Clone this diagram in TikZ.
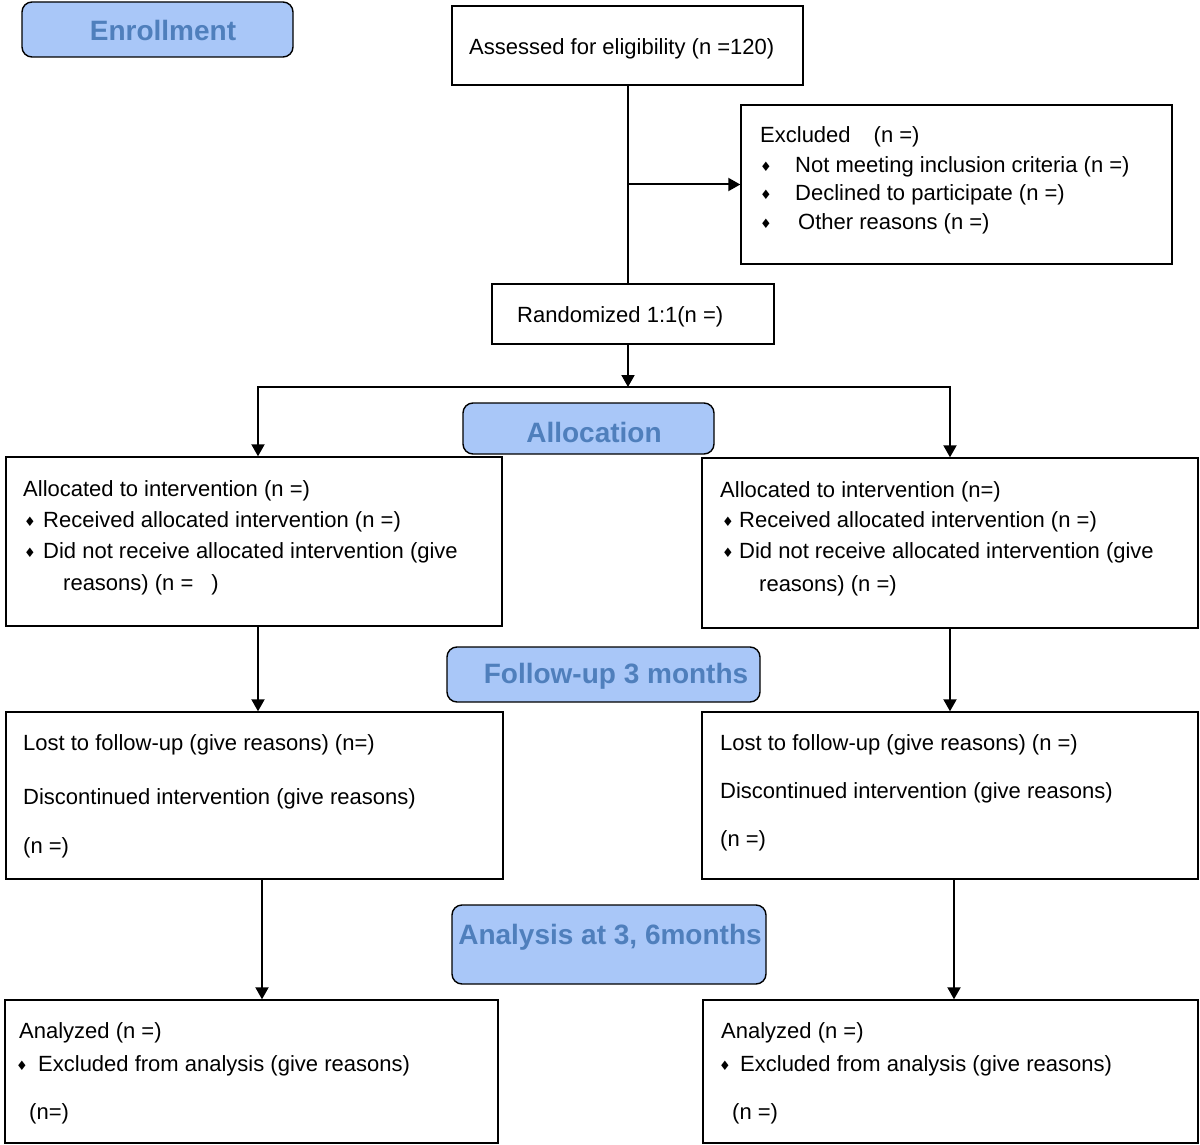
\documentclass[tikz,border=0pt]{standalone}
\usepackage{fontspec}
\setmainfont{Liberation Sans}
\newfontfamily\djv{DejaVu Sans}
\usetikzlibrary{arrows.meta}
\definecolor{lblfill}{HTML}{A9C7F8}
\definecolor{lbltext}{HTML}{4F7FBC}
\newcommand{\bul}{\raisebox{1.5pt}{\djv\fontsize{13}{13}\selectfont ♦}}
\newcommand{\bl}[1]{\makebox[#1][l]{\bul}}
\begin{document}
\begin{tikzpicture}[x=1pt,y=-1pt,
  box/.style={draw, line width=1.4pt, inner sep=0pt},
  lblbox/.style={draw, line width=1.4pt, inner sep=0pt, rounded corners=10pt, fill=lblfill},
  lbltxt/.style={inner sep=0pt, text=lbltext, font=\fontsize{28}{32}\selectfont\bfseries},
  txt/.style={anchor=west, inner sep=0pt, text height=18pt, text depth=2.5pt, font=\fontsize{22}{26}\selectfont},
  ln/.style={line width=2pt},
  arr/.style={line width=2pt, -{Triangle[length=12pt,width=13pt]}},
  arr2/.style={line width=2pt, {Triangle[length=12pt,width=13pt]}-{Triangle[length=12pt,width=13pt]}}
]
\useasboundingbox (0,0) rectangle (1200,1145);

% stage labels
\node[lblbox, minimum width=271pt, minimum height=55pt] (enroll) at (157.5,29.5) {};
\node[lbltxt] (enrollt) at (163,30) {Enrollment};
\node[lblbox, minimum width=251pt, minimum height=51pt] (alloc) at (588.5,428.5) {};
\node[lbltxt] (alloct) at (594,432) {Allocation};
\node[lblbox, minimum width=313pt, minimum height=55pt] (follow) at (603.5,674.5) {};
\node[lbltxt] (followt) at (616,676) {Follow-up 3 months};
\node[lblbox, minimum width=314pt, minimum height=79pt] (analysis) at (609,944.5) {};
\node[lbltxt] (analysist) at (610,937) {Analysis at 3, 6months};

% boxes
\node[box, minimum width=351pt, minimum height=79pt] (assess) at (627.5,45.5) {};
\node[box, minimum width=431pt, minimum height=159pt] (excl) at (956.5,184.5) {};
\node[box, minimum width=282pt, minimum height=60pt] (rand) at (633,314) {};
\node[box, minimum width=496pt, minimum height=169pt] (lb1) at (254,541.5) {};
\node[box, minimum width=496pt, minimum height=170pt] (rb1) at (950,543) {};
\node[box, minimum width=497pt, minimum height=167pt] (lb2) at (254.5,795.5) {};
\node[box, minimum width=496pt, minimum height=167pt] (rb2) at (950,795.5) {};
\node[box, minimum width=493pt, minimum height=143pt] (lb3) at (251.5,1071.5) {};
\node[box, minimum width=495pt, minimum height=143pt] (rb3) at (950.5,1071.5) {};

% texts
\node[txt] (t1) at (469,47) {Assessed for eligibility (n =120)};
\node[txt] (t2) at (760,135) {Excluded\hspace{23pt}(n =)};
\node[txt] (t3) at (760,165) {\bl{35pt}Not meeting inclusion criteria (n =)};
\node[txt] (t4) at (760,193) {\bl{35pt}Declined to participate (n =)};
\node[txt] (t5) at (760,222) {\bl{38pt}Other reasons (n =)};
\node[txt] (t6) at (517,315) {Randomized 1:1(n =)};

\node[txt] (t7) at (23,489) {Allocated to intervention (n =)};
\node[txt] (t8) at (24,520) {\bl{19pt}Received allocated intervention (n =)};
\node[txt] (t9) at (24,551) {\bl{19pt}Did not receive allocated intervention (give};
\node[txt] (t10) at (63,583) {reasons) (n =\hspace{18pt})};

\node[txt] (t11) at (720,490) {Allocated to intervention (n=)};
\node[txt] (t12) at (722,520) {\bl{17pt}Received allocated intervention (n =)};
\node[txt] (t13) at (722,551) {\bl{17pt}Did not receive allocated intervention (give};
\node[txt] (t14) at (759,584) {reasons) (n =)};

\node[txt] (t15) at (23,743) {Lost to follow-up (give reasons) (n=)};
\node[txt] (t16) at (23,797) {Discontinued intervention (give reasons)};
\node[txt] (t17) at (23,846) {(n =)};

\node[txt] (t18) at (720,743) {Lost to follow-up (give reasons) (n =)};
\node[txt] (t19) at (720,791) {Discontinued intervention (give reasons)};
\node[txt] (t20) at (720,839) {(n =)};

\node[txt] (t21) at (19,1031) {Analyzed (n =)};
\node[txt] (t22) at (16,1064) {\bl{22pt}Excluded from analysis (give reasons)};
\node[txt] (t23) at (29,1112) {(n=)};

\node[txt] (t24) at (721,1031) {Analyzed (n =)};
\node[txt] (t25) at (719,1064) {\bl{21pt}Excluded from analysis (give reasons)};
\node[txt] (t26) at (732,1112) {(n =)};

% connectors
\coordinate (split) at (628,387);
\coordinate (sl) at (258,387);
\coordinate (sr) at (950,387);
\coordinate (al) at (262,880);
\coordinate (ar) at (954,880);

\draw[ln] (assess.south) -- (assess.south |- rand.north);
\draw[arr] (assess.south |- excl.west) -- (excl.west);
\draw[arr] (split |- rand.south) -- (split);
\draw[arr2] (sl |- lb1.north) -- (sl) -- (sr) -- (sr |- rb1.north);
\draw[arr] (sl |- lb1.south) -- (sl |- lb2.north);
\draw[arr] (sr |- rb1.south) -- (sr |- rb2.north);
\draw[arr] (al |- lb2.south) -- (al |- lb3.north);
\draw[arr] (ar |- rb2.south) -- (ar |- rb3.north);
\end{tikzpicture}
\end{document}
